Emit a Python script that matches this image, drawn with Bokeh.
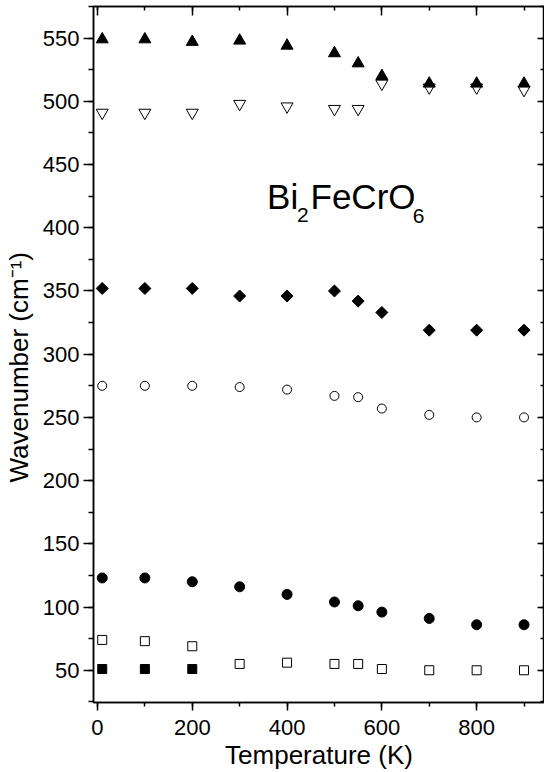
import numpy as np
from bokeh.plotting import figure
from bokeh.models import (Range1d, LinearAxis, SingleIntervalTicker, Label, Title,
                          CustomJSTickFormatter)
from bokeh.embed import file_html
from bokeh.resources import INLINE

# ---- data ----
temperature = [10, 100, 200, 300, 400, 500, 550, 600, 700, 800, 900]
temperature_low = [10, 100, 200]

mode_tri_up = [549, 549, 547, 548, 544, 538, 530, 520, 514, 514, 514]      # filled up-triangles
mode_tri_down = [491, 491, 491, 498, 496, 494, 494, 514, 511, 511, 509]    # open down-triangles
mode_diamond = [352, 352, 352, 346, 346, 350, 342, 333, 319, 319, 319]     # filled diamonds
mode_open_circle = [275, 275, 275, 274, 272, 267, 266, 257, 252, 250, 250]  # open circles
mode_filled_circle = [123, 123, 120, 116, 110, 104, 101, 96, 91, 86, 86]   # filled circles
mode_open_square = [74, 73, 69, 55, 56, 55, 55, 51, 50, 50, 50]            # open squares
mode_filled_square = [51, 51, 51]                                          # filled squares

x_title = "Temperature (K)"
y_title = "Wavenumber (cm\u207b\u00b9)"
compound = ["Bi", "2", "FeCrO", "6"]

FONT = "Liberation Sans"

p = figure(width=544, height=772,
           x_range=Range1d(-8.4, 943.2), y_range=Range1d(24.5, 575.0),
           output_backend="svg", toolbar_location=None,
           min_border_left=92, min_border_right=0, min_border_top=6, min_border_bottom=69,
           background_fill_color="white", border_fill_color="white")
p.grid.visible = False
p.outline_line_color = "black"
p.outline_line_width = 1.5

ax = p.xaxis[0]
ax.ticker = SingleIntervalTicker(interval=200, num_minor_ticks=2)
ax.major_tick_out = 8
ax.major_tick_in = 0
ax.minor_tick_out = 4
ax.minor_tick_in = 0
ax.major_label_standoff = 9
ax.axis_label = x_title
ax.axis_label_text_font = FONT
ax.axis_label_text_font_size = "26px"
ax.axis_label_text_font_style = "normal"
ax.axis_label_text_color = "black"
ax.axis_label_standoff = 2

ay = p.yaxis[0]
ay.ticker = SingleIntervalTicker(interval=50, num_minor_ticks=2)
ay.major_tick_out = 10
ay.major_tick_in = 0
ay.minor_tick_out = 5
ay.minor_tick_in = 0
ay.major_label_standoff = 4
for a in (ax, ay):
    a.axis_line_width = 1.5
    a.major_tick_line_width = 1.5
    a.minor_tick_line_width = 1.5
    a.axis_line_color = "black"
    a.major_tick_line_color = "black"
    a.minor_tick_line_color = "black"
    a.major_label_text_font = FONT
    a.major_label_text_font_size = "22px"
    a.major_label_text_color = "black"

top = LinearAxis(ticker=SingleIntervalTicker(interval=200, num_minor_ticks=2),
                 formatter=CustomJSTickFormatter(code="return ''"))
right = LinearAxis(ticker=SingleIntervalTicker(interval=50, num_minor_ticks=2),
                   formatter=CustomJSTickFormatter(code="return ''"))
for a, mj, mn in ((top, 9, 4), (right, 7, 4)):
    a.major_tick_in = mj
    a.major_tick_out = 0
    a.minor_tick_in = mn
    a.minor_tick_out = 0
    a.major_label_standoff = 0
    a.axis_line_width = 1.5
    a.major_tick_line_width = 1.5
    a.minor_tick_line_width = 1.5
p.add_layout(top, "above")
p.add_layout(right, "right")

# y-axis title as a left-side title so it can be positioned along the axis
p.add_layout(Title(text=y_title, text_font=FONT, text_font_size="26px",
                   text_font_style="normal", text_color="black",
                   align="left", offset=220, standoff=7, vertical_align="top"), "left")

# ---- markers ----
p.scatter(temperature, mode_tri_down, marker="inverted_triangle", size=12,
          fill_color="white", line_color="black", line_width=1)
p.scatter(temperature, mode_tri_up, marker="triangle", size=12,
          fill_color="black", line_color="black")
p.scatter(temperature, mode_diamond, marker="square", angle=np.pi / 4, size=8.5,
          fill_color="black", line_color="black")
p.scatter(temperature, mode_open_circle, marker="circle", size=9,
          fill_color="white", line_color="black", line_width=1)
p.scatter(temperature, mode_filled_circle, marker="circle", size=10,
          fill_color="black", line_color="black")
p.scatter(temperature, mode_open_square, marker="square", size=9,
          fill_color="white", line_color="black", line_width=1)
p.scatter(temperature_low, mode_filled_square, marker="square", size=9,
          fill_color="black", line_color="black")

# ---- compound name with subscripts ----
def lab(x, y, text, size):
    p.add_layout(Label(x=x, y=y, text=text, text_font=FONT, text_font_size=size,
                       text_color="black", text_align="left", text_baseline="alphabetic"))

lab(357.9, 424.4, compound[0], "35px")
lab(421.0, 410.0, compound[1], "21px")
lab(449.5, 424.4, compound[2], "35px")
lab(665.3, 409.2, compound[3], "21px")

open("out.html", "w").write(file_html(p, INLINE))
